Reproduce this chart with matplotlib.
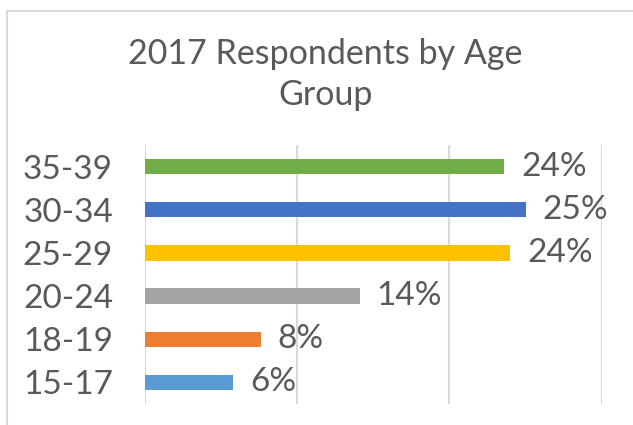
import matplotlib
matplotlib.use("Agg")
import matplotlib.pyplot as plt
from matplotlib.lines import Line2D

# data (percent of respondents)
age_groups = ["15-17", "18-19", "20-24", "25-29", "30-34", "35-39"]
shares = [5.8, 7.6, 14.1, 24.0, 25.0, 23.6]
bar_colors = ["#5B9BD5", "#ED7D31", "#A5A5A5", "#FFC000", "#4472C4", "#70AD47"]
grid_ticks = [0, 10, 20, 30]

text_col = "#595959"
grid_col = "#D9D9D9"

plt.rcParams["font.family"] = ["Lato", "DejaVu Sans"]

fig = plt.figure(figsize=(6.33, 4.25), dpi=100)
ax = fig.add_axes([0.229, 0.0494, 0.7216, 0.6094])

pos = range(len(age_groups))
ax.barh(pos, shares, height=0.355, color=bar_colors, zorder=3)

for i, v in enumerate(shares):
    ax.text(v + 1.1, i, "{:.0f}%".format(v), va="center", ha="left",
            fontsize=24, color=text_col)

ax.set_xlim(0, 30)
ax.set_ylim(-0.5, len(age_groups) - 0.5)
ax.set_xticks(grid_ticks)
ax.set_xticklabels([])
ax.set_yticks(list(pos))
ax.set_yticklabels(age_groups, fontsize=24, color=text_col)
ax.tick_params(axis="both", length=0)
ax.tick_params(axis="y", pad=23)
ax.grid(axis="x", color=grid_col, linewidth=1.5, zorder=0)
for s in ax.spines.values():
    s.set_visible(False)

fig.text(0.514, 0.824, "2017 Respondents by Age\nGroup", ha="center", va="center",
         fontsize=24.5, color=text_col, linespacing=1.35)

# chart frame (only left and top edges fall inside the picture)
fig.add_artist(Line2D([6.5 / 633, 6.5 / 633], [0, 1 - 11 / 425], color=grid_col, lw=1.5))
fig.add_artist(Line2D([6.5 / 633, 1], [1 - 11 / 425, 1 - 11 / 425], color=grid_col, lw=1.5))

fig.savefig("out.png", dpi=100)
